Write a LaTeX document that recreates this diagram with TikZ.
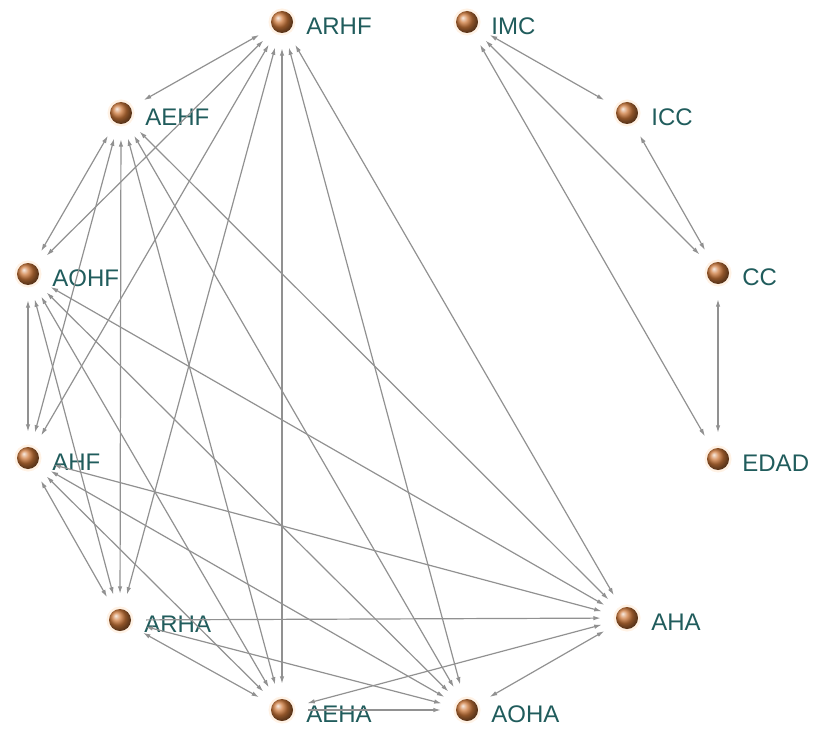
\documentclass[tikz,border=0pt]{standalone}
\usepackage{fontspec}
\setmainfont{Liberation Sans}
\usetikzlibrary{arrows.meta}

\definecolor{bola}{RGB}{205,120,58}
\definecolor{rotulo}{RGB}{32,92,92}
\definecolor{aresta}{RGB}{145,145,145}

\tikzset{
  vert/.style={circle, minimum size=22pt, inner sep=0pt, shading=ball, ball color=bola,
    preaction={draw=orange!10, line width=5pt},
    label={[text=rotulo, font=\fontsize{24}{24}\selectfont, inner sep=0pt,
            label distance=13pt, yshift=-4pt]right:#1}},
  lig/.style={draw=aresta, line width=1.2pt, shorten >=15pt, shorten <=15pt,
    {Latex[length=7.5pt,width=4.5pt]}-{Latex[length=7.5pt,width=4.5pt]}},
  uni/.style={draw=aresta, line width=1.2pt, shorten >=15pt, shorten <=15pt,
    -{Latex[length=7.5pt,width=4.5pt]}}
}

\begin{document}
\begin{tikzpicture}[x=1pt,y=-1pt] %1
    \useasboundingbox (0,0) rectangle (816,730);

    % vertices
    \node[vert=ARHF] (arhf) at (282,22) {};
    \node[vert=IMC]  (imc)  at (467,22) {};
    \node[vert=AEHF] (aehf) at (121,113) {};
    \node[vert=ICC]  (icc)  at (627,113) {};
    \node[vert=AOHF] (aohf) at (28,274) {};
    \node[vert=CC]   (cc)   at (718,273) {};
    \node[vert=AHF]  (ahf)  at (28,458) {};
    \node[vert=EDAD] (edad) at (718,459) {};
    \node[vert=ARHA] (arha) at (120,620) {};
    \node[vert=AHA]  (aha)  at (627,618) {};
    \node[vert=AEHA] (aeha) at (282,710) {};
    \node[vert=AOHA] (aoha) at (467,710) {};

    % left group
    \draw[lig] (arhf) -- (aehf);
    \draw[lig] (arhf) -- (aohf);
    \draw[lig] (arhf) -- (ahf);
    \draw[lig] (arhf) -- (arha);
    \draw[lig] (arhf) -- (aeha);
    \draw[lig] (arhf) -- (aoha);
    \draw[lig] (arhf) -- (aha);
    \draw[lig] (aehf) -- (aohf);
    \draw[lig] (aehf) -- (ahf);
    \draw[lig] (aehf) -- (arha);
    \draw[lig] (aehf) -- (aeha);
    \draw[lig] (aehf) -- (aoha);
    \draw[lig] (aehf) -- (aha);
    \draw[lig] (aohf) -- (ahf);
    \draw[lig] (aohf) -- (arha);
    \draw[lig] (aohf) -- (aeha);
    \draw[lig] (aohf) -- (aoha);
    \draw[lig] (aohf) -- (aha);
    \draw[lig] (ahf) -- (arha);
    \draw[lig] (ahf) -- (aeha);
    \draw[lig] (ahf) -- (aoha);
    \draw[lig] (ahf) -- (aha);
    \draw[lig] (arha) -- (aeha);
    \draw[lig] (arha) -- (aoha);
    \draw[uni] (arha) -- (aha);
    \draw[uni] (aeha) -- (aoha);
    \draw[lig] (aha) -- (aeha);
    \draw[lig] (aha) -- (aoha);

    % right group
    \draw[lig] (imc) -- (icc);
    \draw[lig] (imc) -- (cc);
    \draw[lig] (icc) -- (cc);
    \draw[lig] (imc) -- (edad);
    \draw[lig] (cc) -- (edad);
\end{tikzpicture}
\end{document}
